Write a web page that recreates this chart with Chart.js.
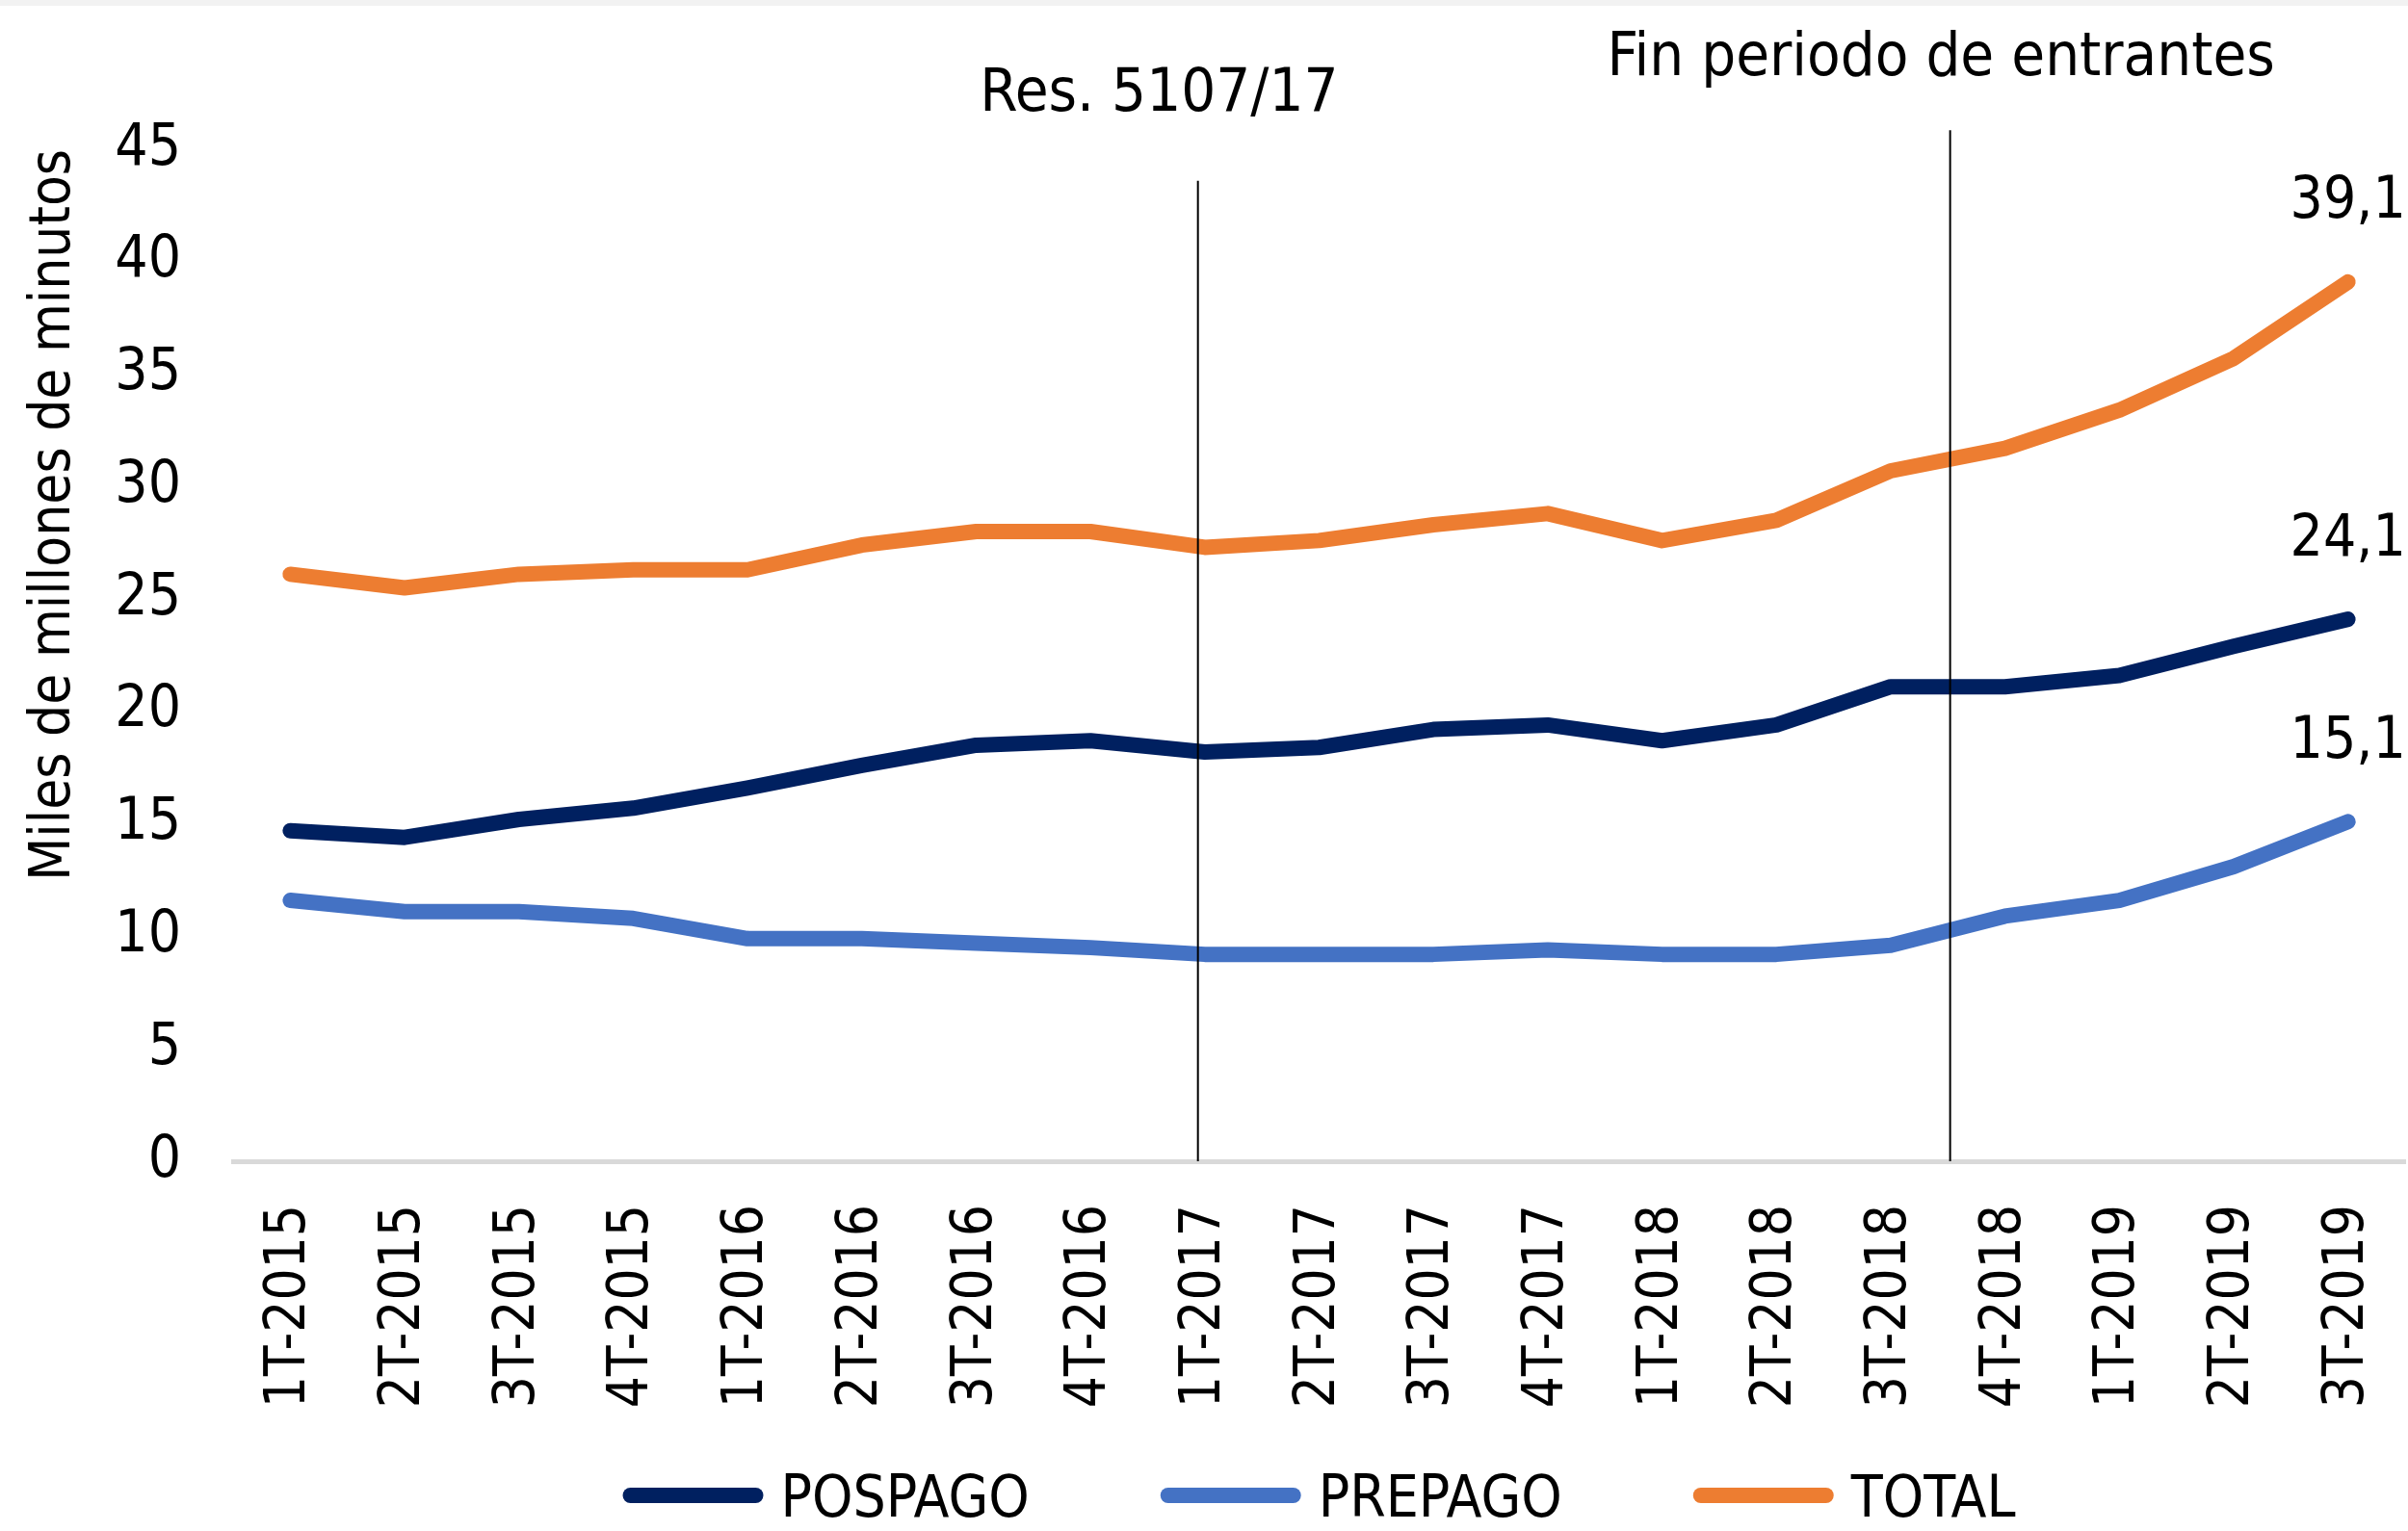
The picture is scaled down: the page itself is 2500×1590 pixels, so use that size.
<!DOCTYPE html>
<html>
<head>
<meta charset="utf-8">
<script src="https://cdn.jsdelivr.net/npm/chart.js@4.4.0/dist/chart.umd.min.js"></script>
<style>
  html, body { margin: 0; padding: 0; background: #fff; }
  canvas { display: block; }
</style>
</head>
<body>
<canvas id="chart" width="2500" height="1590"></canvas>
<script>
// DATOS
const trimestres = ['1T-2015', '2T-2015', '3T-2015', '4T-2015', '1T-2016', '2T-2016', '3T-2016', '4T-2016',
    '1T-2017', '2T-2017', '3T-2017', '4T-2017', '1T-2018', '2T-2018', '3T-2018', '4T-2018',
    '1T-2019', '2T-2019', '3T-2019'];
const pospago = [14.7, 14.4, 15.2, 15.7, 16.6, 17.6, 18.5, 18.7, 18.2, 18.4, 19.2, 19.4, 18.7, 19.4, 21.1, 21.1, 21.6, 22.9, 24.1];
const prepago = [11.6, 11.1, 11.1, 10.8, 9.9, 9.9, 9.7, 9.5, 9.2, 9.2, 9.2, 9.4, 9.2, 9.2, 9.6, 10.9, 11.6, 13.1, 15.1];
const total = [26.1, 25.5, 26.1, 26.3, 26.3, 27.4, 28.0, 28.0, 27.3, 27.6, 28.3, 28.8, 27.6, 28.5, 30.7, 31.7, 33.4, 35.7, 39.1];
const yTicks = [0, 5, 10, 15, 20, 25, 30, 35, 40, 45];

const FONT = '"DejaVu Sans Condensed", "DejaVu Sans", sans-serif';

// lineas verticales y textos de referencia (x en indice de categoria, y en unidades del eje)
const marcas = [
    { texto: 'Res. 5107/17', xLinea: 7.94, yTope: 43.6, xTexto: 7.60, yTexto: 47.4 },
    { texto: 'Fin periodo de entrantes', xLinea: 14.52, yTope: 45.85, xTexto: 14.44, yTexto: 49.0 }
];

const fondoSuperior = {
    id: 'fondoSuperior',
    beforeDraw(chart) {
        const ctx = chart.ctx;
        ctx.save();
        ctx.fillStyle = '#f2f2f2';
        ctx.fillRect(0, 0, chart.width, 6);
        ctx.restore();
    }
};

const lineasReferencia = {
    id: 'lineasReferencia',
    afterDatasetsDraw(chart) {
        const { ctx, scales: { x, y } } = chart;
        ctx.save();
        marcas.forEach(m => {
            const px = x.getPixelForValue(m.xLinea);
            ctx.strokeStyle = '#000';
            ctx.lineWidth = 2;
            ctx.beginPath();
            ctx.moveTo(px, y.getPixelForValue(m.yTope));
            ctx.lineTo(px, y.getPixelForValue(0));
            ctx.stroke();

            ctx.fillStyle = '#000';
            ctx.font = '63px ' + FONT;
            ctx.textAlign = 'center';
            ctx.textBaseline = 'middle';
            ctx.fillText(m.texto, x.getPixelForValue(m.xTexto), y.getPixelForValue(m.yTexto));
        });
        ctx.restore();
    }
};

const etiquetasFinales = {
    id: 'etiquetasFinales',
    afterDatasetsDraw(chart) {
        const ctx = chart.ctx;
        ctx.save();
        ctx.fillStyle = '#000';
        ctx.font = '60px ' + FONT;
        ctx.textAlign = 'center';
        ctx.textBaseline = 'middle';
        chart.data.datasets.forEach((ds, i) => {
            const meta = chart.getDatasetMeta(i);
            const last = meta.data[meta.data.length - 1];
            const v = ds.data[ds.data.length - 1];
            ctx.fillText(v.toFixed(1).replace('.', ','), last.x, last.y - 82);
        });
        ctx.restore();
    }
};

const leyenda = {
    id: 'leyenda',
    afterDraw(chart) {
        const { ctx, chartArea } = chart;
        const largo = 146, gap = 18, sep = 136, yc = 1555;
        ctx.save();
        ctx.font = '60px ' + FONT;
        const anchos = chart.data.datasets.map(ds => ctx.measureText(ds.label).width);
        const totalW = anchos.reduce((a, w) => a + largo + gap + w, 0) + sep * (anchos.length - 1);
        let xx = (chartArea.left + chartArea.right) / 2 - totalW / 2;
        chart.data.datasets.forEach((ds, i) => {
            ctx.strokeStyle = ds.borderColor;
            ctx.lineWidth = 16;
            ctx.lineCap = 'round';
            ctx.beginPath();
            ctx.moveTo(xx + 8, yc - 2);
            ctx.lineTo(xx + largo - 8, yc - 2);
            ctx.stroke();
            ctx.fillStyle = '#000';
            ctx.textAlign = 'left';
            ctx.textBaseline = 'middle';
            ctx.fillText(ds.label, xx + largo + gap, yc + 4);
            xx += largo + gap + anchos[i] + sep;
        });
        ctx.restore();
    }
};

const serie = (label, data, color) => ({
    label, data,
    borderColor: color,
    backgroundColor: color,
    borderWidth: 16,
    borderCapStyle: 'round',
    borderJoinStyle: 'round',
    pointRadius: 0,
    pointHoverRadius: 0,
    tension: 0,
    fill: false
});

new Chart(document.getElementById('chart'), {
    type: 'line',
    data: {
        labels: trimestres,
        datasets: [
            serie('POSPAGO', pospago, '#002060'),
            serie('PREPAGO', prepago, '#4472C4'),
            serie('TOTAL', total, '#ED7D31')
        ]
    },
    options: {
        responsive: false,
        devicePixelRatio: 1,
        animation: false,
        events: [],
        layout: { padding: { top: 155, right: 3, left: 0, bottom: 0 } },
        plugins: {
            legend: { display: false },
            tooltip: { enabled: false }
        },
        scales: {
            x: {
                type: 'category',
                offset: true,
                grid: { display: false, drawTicks: false },
                border: { display: true, color: '#d9d9d9', width: 5 },
                ticks: {
                    autoSkip: false,
                    maxRotation: 90,
                    minRotation: 90,
                    padding: 45,
                    color: '#000',
                    font: { family: FONT, size: 58 }
                },
                afterFit(s) {
                    s.height = 384;
                    s.paddingLeft = 0;
                    s.paddingRight = 0;
                }
            },
            y: {
                min: 0,
                max: 45,
                afterBuildTicks(s) { s.ticks = yTicks.map(v => ({ value: v })); },
                grid: { display: false, drawTicks: false },
                border: { display: false },
                ticks: {
                    padding: 54,
                    color: '#000',
                    font: { family: FONT, size: 60 }
                },
                title: {
                    display: true,
                    text: 'Miles de millones de minutos',
                    align: 'end',
                    color: '#000',
                    padding: { top: 22 },
                    font: { family: FONT, size: 58 }
                },
                afterFit(s) {
                    s.width = 242;
                    s.paddingTop = 0;
                    s.paddingBottom = 0;
                }
            }
        }
    },
    plugins: [fondoSuperior, lineasReferencia, etiquetasFinales, leyenda]
});
</script>
</body>
</html>
